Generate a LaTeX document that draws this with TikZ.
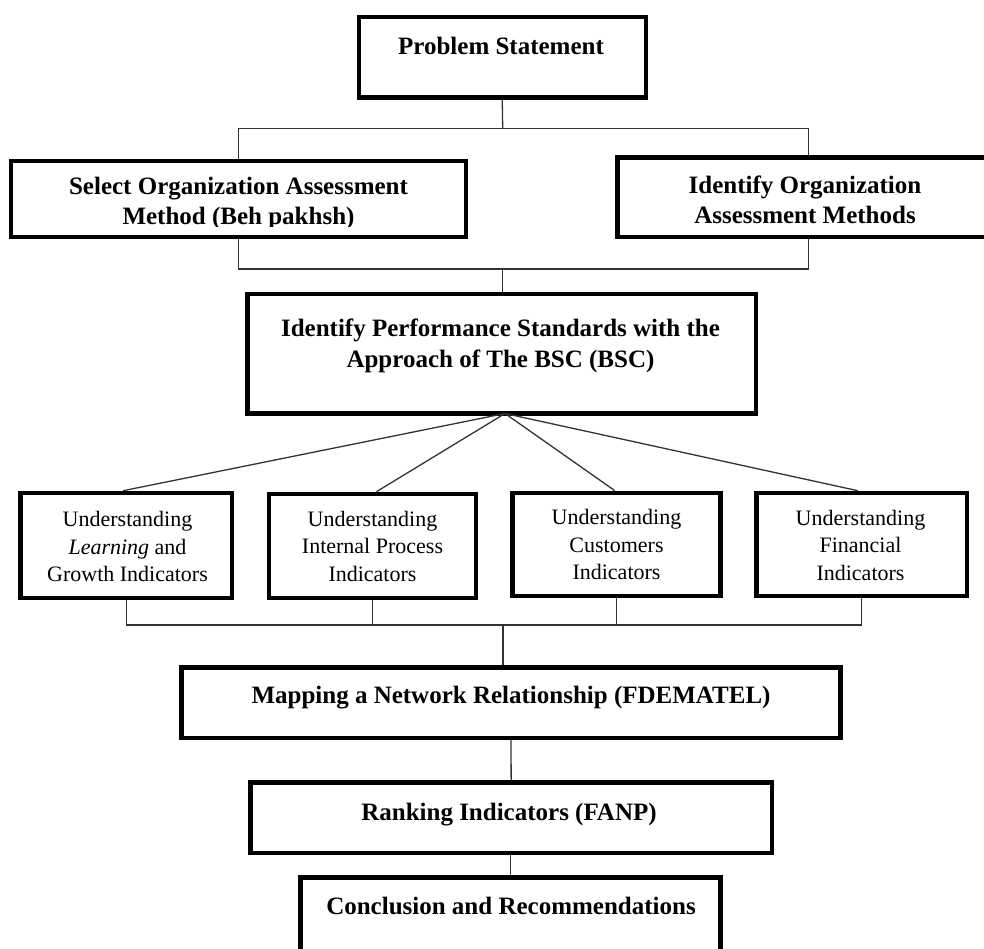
\documentclass[tikz,border=0pt]{standalone}
\usepackage{fontspec}
\setmainfont{Liberation Serif}
\tikzset{
  box/.style={draw=black, line width=4.5pt, inner sep=0pt},
  bt/.style={font=\fontsize{25}{30}\selectfont\bfseries, anchor=base, inner sep=0pt},
  rt/.style={font=\fontsize{22}{27}\selectfont, anchor=base, inner sep=0pt},
  conn/.style={draw=black!80, line width=1.3pt},
}
\begin{document}
\begin{tikzpicture}[x=1pt,y=-1pt]
\useasboundingbox (0,0) rectangle (984,949);
% boxes
\node[box, minimum width=287pt, minimum height=80.8pt] (ps) at (502.25,57.35) {};
\node[box, minimum width=455.1pt, minimum height=76.1pt] (sel) at (238.5,199) {};
\node[box, minimum width=382.1pt, minimum height=79.5pt] (idm) at (808.3,197.3) {};
\node[box, minimum width=508.8pt, minimum height=119.5pt] (bsc) at (501.65,353.7) {};
\node[box, minimum width=211.2pt, minimum height=104.8pt] (b1) at (126.15,545.35) {};
\node[box, minimum width=207pt, minimum height=103.8pt] (b2) at (372.45,545.85) {};
\node[box, minimum width=208.2pt, minimum height=102.8pt] (b3) at (616.35,544.35) {};
\node[box, minimum width=210.5pt, minimum height=103.1pt] (b4) at (861.8,544.5) {};
\node[box, minimum width=658.9pt, minimum height=70.5pt] (map) at (511,702.5) {};
\node[box, minimum width=521.2pt, minimum height=70.5pt] (rank) at (511.15,817.5) {};
\node[box, minimum width=419.9pt, minimum height=85.5pt] (conc) at (510.5,920) {};
% texts
\node[bt] (tps) at (501,55) {Problem Statement};
\node[bt] (tsel1) at (238.5,195) {Select Organization Assessment};
\begin{scope}
  \clip (0,0) rectangle (984,226.5);
  \node[bt] (tsel2) at (238.5,225) {Method (Beh pakhsh)};
\end{scope}
\node[bt] (tidm1) at (805,194) {Identify Organization};
\node[bt] (tidm2) at (805,223.3) {Assessment Methods};
\node[bt] (tbsc1) at (500.5,336.7) {Identify Performance Standards with the};
\node[bt] (tbsc2) at (500.5,367.3) {Approach of The BSC (BSC)};
\node[rt] (tb1a) at (127.5,526.5) {Understanding};
\node[rt] (tb1b) at (127.5,554) {\textit{Learning} and};
\node[rt] (tb1c) at (127.5,581.5) {Growth Indicators};
\node[rt] (tb2a) at (372.5,526) {Understanding};
\node[rt] (tb2b) at (372.5,553.5) {Internal Process};
\node[rt] (tb2c) at (372.5,581) {Indicators};
\node[rt] (tb3a) at (616.5,524.5) {Understanding};
\node[rt] (tb3b) at (616.5,552) {Customers};
\node[rt] (tb3c) at (616.5,579.5) {Indicators};
\node[rt] (tb4a) at (860.5,525) {Understanding};
\node[rt] (tb4b) at (860.5,552.7) {Financial};
\node[rt] (tb4c) at (860.5,580.7) {Indicators};
\node[bt] (tmap) at (511,703.3) {Mapping a Network Relationship (FDEMATEL)};
\node[bt] (trank) at (509,820) {Ranking Indicators (FANP)};
\node[bt] (tconc) at (511,914) {Conclusion and Recommendations};
% junctions
\coordinate (j1) at (502.7,128.3);
\coordinate (j2) at (502.7,269);
\coordinate (apex) at (505,413.5);
\coordinate (j3) at (503,625);
% connectors
\draw[conn] (ps.south) -- (j1);
\draw[conn] (sel.north) |- (j1) -| (idm.north);
\draw[conn] (sel.south) |- (j2) -| (idm.south);
\draw[conn] (j2) -- (j2 |- bsc.north);
\draw[conn] (apex) -- ([xshift=-3pt]b1.north);
\draw[conn] (apex) -- ([xshift=4pt]b2.north);
\draw[conn] (apex) -- ([xshift=-1.5pt]b3.north);
\draw[conn] (apex) -- ([xshift=-4pt]b4.north);
\draw[conn] (b1.south) |- (j3) -| (b4.south);
\draw[conn] (b2.south) -- (b2.south |- j3);
\draw[conn] (b3.south) -- (b3.south |- j3);
\draw[conn] (j3) -- (j3 |- map.north);
\draw[conn] (map.south) -- (rank.north);
\draw[conn] (rank.south -| conc.north) -- (conc.north);
\end{tikzpicture}
\end{document}
